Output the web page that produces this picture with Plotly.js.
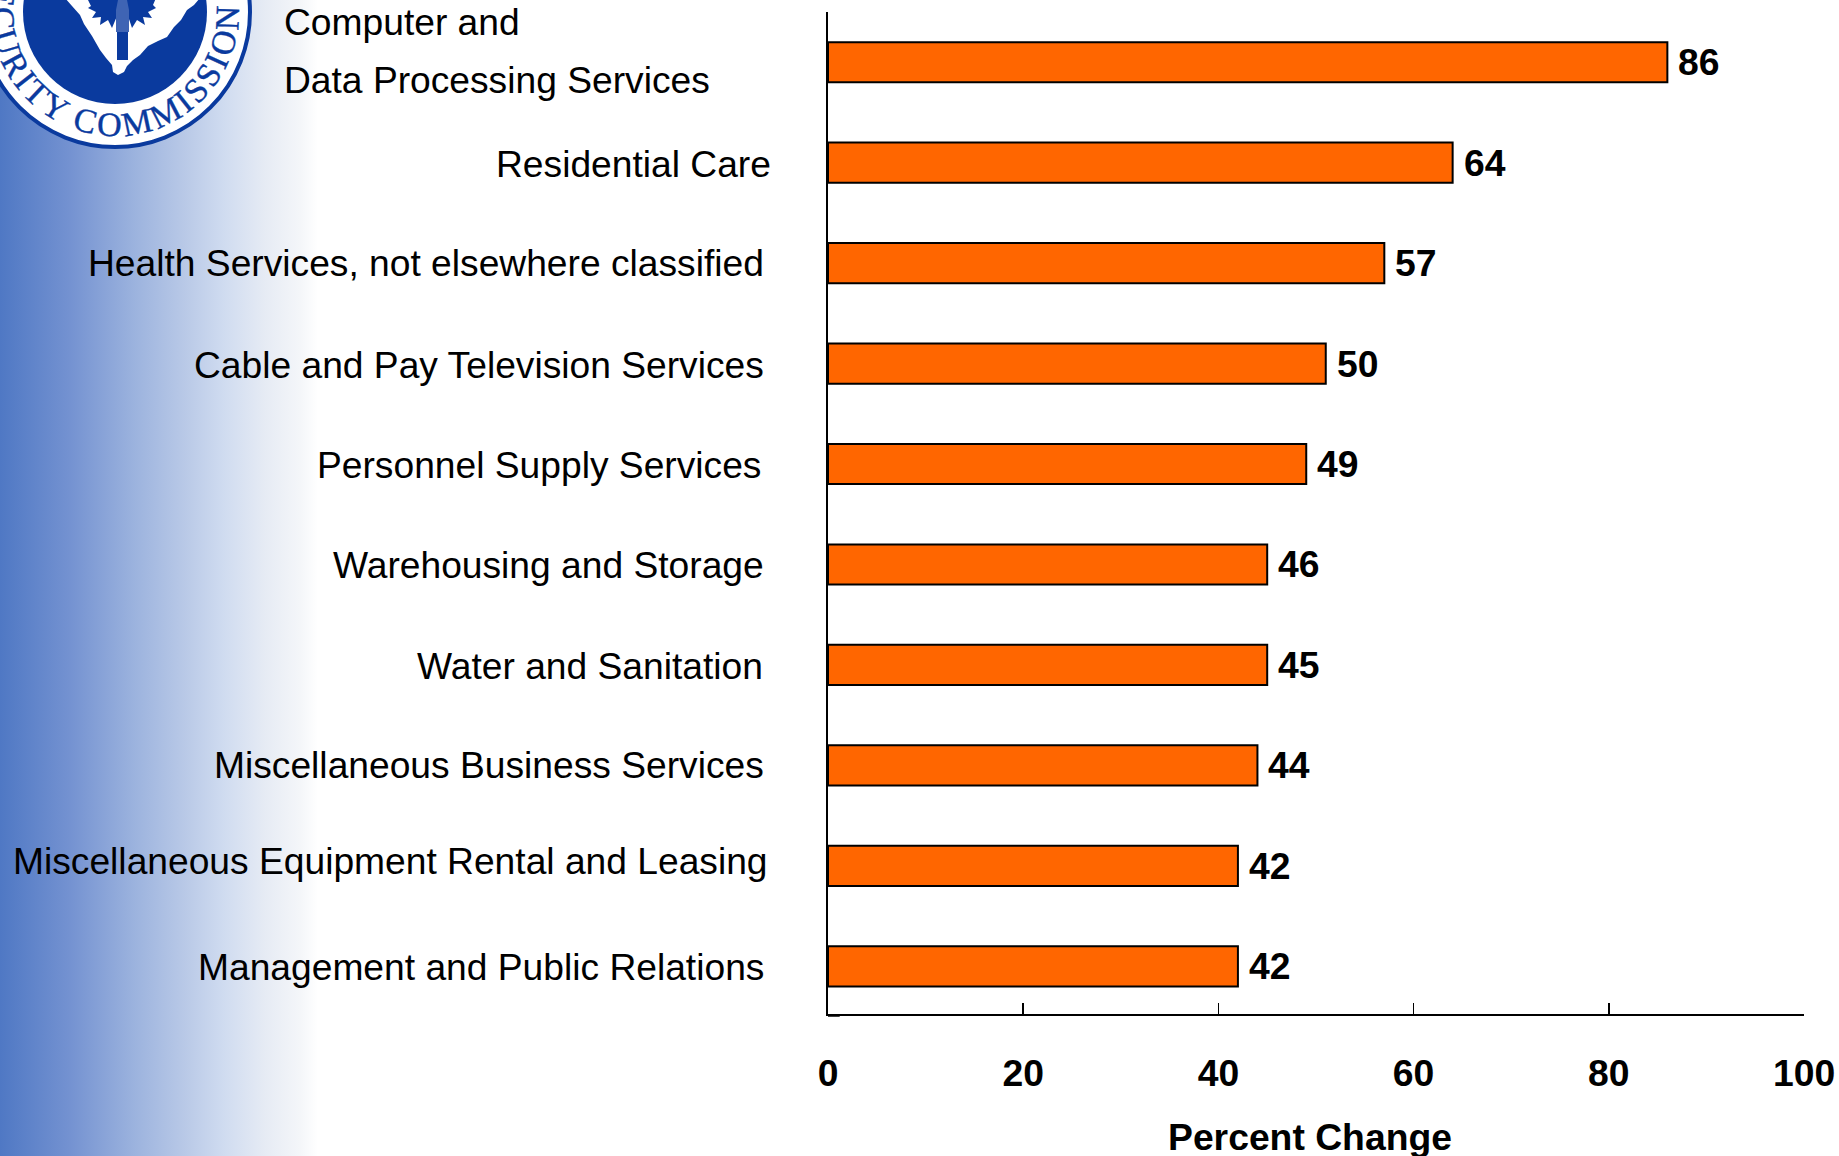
<!DOCTYPE html>
<html><head><meta charset="utf-8">
<script src="https://cdn.plot.ly/plotly-3.0.1.min.js"></script>
<style>
html,body{margin:0;padding:0;background:#fff;width:1839px;height:1156px;overflow:hidden}
#bg{position:absolute;left:0;top:0;width:320px;height:1156px;background:linear-gradient(to right,#4f78c4 0,#7492d1 70px,#9cb3de 135px,#b9c9e7 185px,#d0dcf0 225px,#e6ebf4 265px,#f4f6f9 300px,#fff 318px)}
#seal{position:absolute;left:0;top:0}
#chart{position:absolute;left:0;top:0;width:1839px;height:1156px}
</style></head><body>
<div id="bg"></div>
<svg id="seal" width="320" height="200" viewBox="0 0 320 200">
<defs><path id="arc" d="M 35.3 -83 A 124 124 0 1 0 238.7 3.3"/></defs>
<circle cx="115" cy="12" r="135" fill="#fff" stroke="#0a3a9e" stroke-width="4"/>
<circle cx="115" cy="12" r="92" fill="#0a3a9e"/>
<path d="M65 -2 L72 6 L80 15 L84 24 L92 36 L100 50 L106 58 L112 65 L113 72 L118 75 L124 72 L127 66 L133 60 L140 55 L148 46 L158 41 L167 37 L174 27 L181 20 L187 10 L194 5 L200 -2 Z" fill="#fff"/>
<rect x="117" y="14" width="11" height="46" fill="#0a3a9e"/>
<path d="M117 -2 L87 -2 L91 6 L88 8 L96 12 L92 18 L101 17 L100 25 L108 20 L112 28 L117 16 L128 16 L132 28 L137 20 L145 25 L143 17 L152 18 L148 12 L156 8 L153 5 L156 -2 Z" fill="#0a3a9e"/>
<path d="M116 10 L129 10 L129 32 L116 32 Z M118 0 L127 0 L129 10 L116 10 Z" fill="#3f64b4"/>
<text font-family="Liberation Serif" font-size="34" fill="#0a3a9e" stroke="#0a3a9e" stroke-width="0.4" letter-spacing="3" text-anchor="end"><textPath href="#arc" startOffset="100%">SECURITY COMMISSION</textPath></text>
</svg>
<div id="chart"></div>
<script>
var categories=["Computer and Data Processing Services","Residential Care","Health Services, not elsewhere classified","Cable and Pay Television Services","Personnel Supply Services","Warehousing and Storage","Water and Sanitation","Miscellaneous Business Services","Miscellaneous Equipment Rental and Leasing","Management and Public Relations"];
var firstLabelLines=["Computer and","Data Processing Services"];
var barLengths=[86,64,57,51,49,45,45,44,42,42];
var valueLabels=["86","64","57","50","49","46","45","44","42","42"];
var xTicks=[0,20,40,60,80,100];
var labelNudgeX=[0,7,0,0,-3,0,-1,0,4,0];
var labelNudgeY=[0,1,0,1,1,1,1,0,-5,1];

var plainFont={family:"Liberation Sans",size:37.2,color:"#000"};
var boldFont={family:"Liberation Sans",size:37.3,color:"#000",weight:700};
var annotations=[];
categories.forEach(function(c,i){
  if(i===0)return;
  annotations.push({xref:"paper",yref:"y",x:0,y:c,xanchor:"right",yanchor:"middle",align:"right",
    text:c,showarrow:false,xshift:-62+labelNudgeX[i],yshift:-labelNudgeY[i],font:plainFont});
});
firstLabelLines.forEach(function(t,i){
  annotations.push({xref:"paper",yref:"y",x:0,y:categories[0],xanchor:"left",yanchor:"middle",align:"left",
    text:t,showarrow:false,xshift:-546.5,yshift:i===0?40:-18,font:plainFont});
});
categories.forEach(function(c,i){
  annotations.push({xref:"x",yref:"y",x:barLengths[i],y:c,xanchor:"left",yanchor:"middle",text:valueLabels[i],
    showarrow:false,xshift:9,font:boldFont});
});
annotations.push({xref:"x",yref:"paper",x:50,y:0,yanchor:"top",yshift:-100,xshift:-6,showarrow:false,text:"Percent Change",font:boldFont});

Plotly.newPlot("chart",[{
  type:"bar",orientation:"h",y:categories,x:barLengths,
  marker:{color:"#ff6600",line:{color:"#000",width:2}},hoverinfo:"skip"
}],{
  width:1839,height:1156,margin:{l:828,r:35,t:12,b:142},
  paper_bgcolor:"rgba(0,0,0,0)",plot_bgcolor:"rgba(0,0,0,0)",
  showlegend:false,bargap:0.6,
  xaxis:{range:[0,100],tickvals:xTicks,ticktext:xTicks.map(String),ticks:"inside",ticklen:11,tickwidth:1.5,tickcolor:"#000",
    showline:true,linecolor:"#000",linewidth:2,showgrid:false,zeroline:false,
    tickfont:boldFont,ticklabelstandoff:25},
  yaxis:{type:"category",autorange:false,range:[9.475,-0.5],showticklabels:false,ticks:"",showline:true,linecolor:"#000",linewidth:2,showgrid:false,zeroline:false},
  shapes:[{type:"line",xref:"x",yref:"paper",x0:0,x1:1.2,y0:-0.002,y1:-0.002,line:{color:"#000",width:1.5}}],
  annotations:annotations
},{displayModeBar:false,staticPlot:true});
</script></body></html>
